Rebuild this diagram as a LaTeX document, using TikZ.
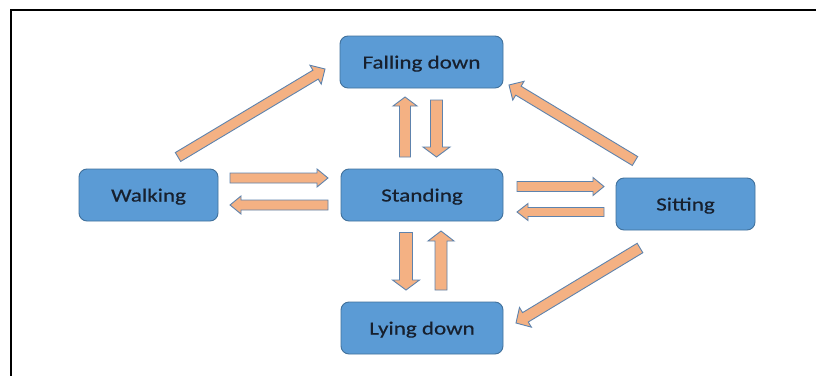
\documentclass[tikz,border=0pt]{standalone}
\usepackage{fontspec}
\setmainfont[FakeStretch=1.24,FakeBold=0.5]{Carlito}
\usetikzlibrary{calc}
\definecolor{boxfill}{HTML}{5B9BD5}
\definecolor{boxline}{HTML}{41719C}
\definecolor{arrfill}{HTML}{F4B183}
\definecolor{arrline}{HTML}{5E83AD}
\definecolor{txtcol}{HTML}{17202E}
\tikzset{
  statebox/.style={draw=boxline, fill=boxfill, line width=0.9pt, rounded corners=8pt,
    inner sep=0pt, minimum height=52pt, text height=14.5pt, text depth=1.5pt,
    text=txtcol, font=\fontsize{18.6}{20}\selectfont},
  wbox/.style={statebox, minimum width=139pt},
  nbox/.style={statebox, minimum width=162pt},
  blockarrow/.style={fill=arrfill, draw=arrline, line width=0.9pt, line join=miter},
  frameline/.style={draw=black, line width=2pt}
}
\newcommand\barrow[5]{%
  \path let \p1=(#1), \p2=(#2), \n1={atan2(\y2-\y1,\x2-\x1)}, \n2={veclen(\x2-\x1,\y2-\y1)} in
    \pgfextra{\xdef\bang{\n1}\xdef\blen{\n2}\xdef\bx{\x1}\xdef\by{\y1}};
  \pgfmathsetlengthmacro\bneck{\blen-#5pt}%
  \draw[blockarrow, shift={(\bx,\by)}, rotate=\bang]
    (0pt,-#3pt) -- (\bneck,-#3pt) -- (\bneck,-#4pt) -- (\blen,0pt)
    -- (\bneck,#4pt) -- (\bneck,#3pt) -- (0pt,#3pt) -- cycle;
}
\begin{document}
\begin{tikzpicture}[x=1pt,y=-1pt]
\useasboundingbox (0,0) rectangle (816,375);
\fill[white] (0,0) rectangle (816,375);
\coordinate (frbl) at (11,380);
\coordinate (frtl) at (11,10);
\coordinate (frtr) at (820,10);
\draw[frameline] (frbl) -- (frtl) -- (frtr);

\node[nbox, minimum width=163pt] (fall) at (421.5,62) {Falling down};
\node[wbox] (walk) at (148.5,195) {Walking};
\node[nbox] (stand) at (422,195) {Standing};
\node[nbox] (lie) at (422,328) {Lying down};
\node[wbox] (sit) at (685.5,204) {Sitting};

% arrow end points
\coordinate (wfS) at (178,157);   \coordinate (wfE) at (325,69);
\coordinate (sfS) at (405,157);   \coordinate (sfE) at (405,97);
\coordinate (fsS) at (436.5,100); \coordinate (fsE) at (436.5,157);
\coordinate (wsS) at (230,178);   \coordinate (wsE) at (328,178);
\coordinate (swS) at (328,205);   \coordinate (swE) at (230,205);
\coordinate (stS) at (517,186.5); \coordinate (stE) at (604,186.5);
\coordinate (tsS) at (604,212);   \coordinate (tsE) at (517,212);
\coordinate (slS) at (406,232.5); \coordinate (slE) at (406,290);
\coordinate (lsS) at (441,290);   \coordinate (lsE) at (441,231);
\coordinate (tfS) at (635,161);   \coordinate (tfE) at (509,85);
\coordinate (tlS) at (640,248);   \coordinate (tlE) at (516,323);

\barrow{wfS}{wfE}{5.2}{11}{11}
\barrow{sfS}{sfE}{5.5}{12}{9}
\barrow{fsS}{fsE}{6}{13.5}{10}
\barrow{wsS}{wsE}{5}{9}{11}
\barrow{swS}{swE}{5}{9}{11}
\barrow{stS}{stE}{5}{9}{11}
\barrow{tsS}{tsE}{4.5}{8.5}{11}
\barrow{slS}{slE}{6.5}{13.5}{10}
\barrow{lsS}{lsE}{6}{13}{10}
\barrow{tfS}{tfE}{5.2}{11}{11}
\barrow{tlS}{tlE}{5.5}{11.5}{11}
\end{tikzpicture}
\end{document}
